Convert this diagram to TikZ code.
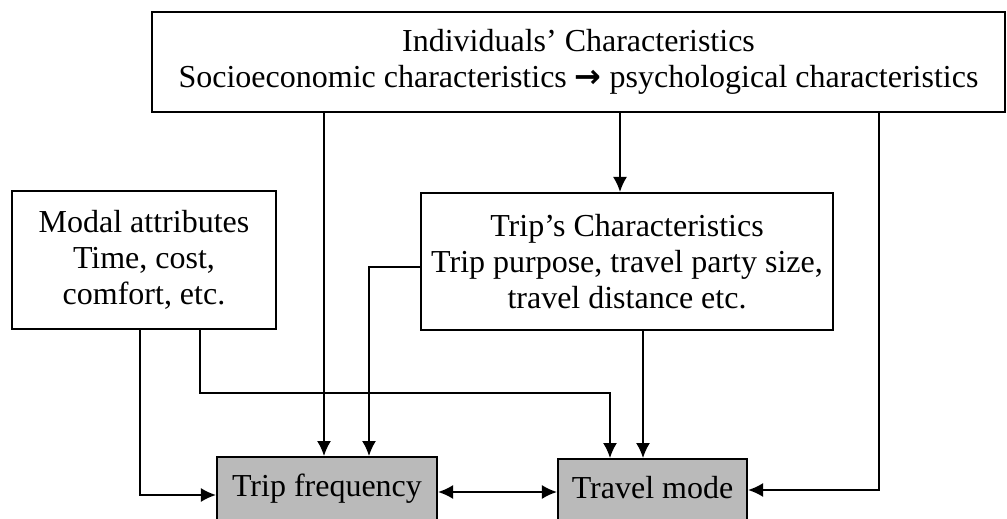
\documentclass[tikz,border=0pt]{standalone}
\usepackage{fontspec}
\setmainfont{Liberation Serif}
\newfontfamily\arrowfont{DejaVu Sans}
\usetikzlibrary{arrows.meta,positioning}
\tikzset{
  box/.style={draw, line width=1.1pt, inner sep=0pt, align=center, font=\fontsize{16}{18}\selectfont},
  gbox/.style={box, fill=black!27, anchor=north, inner ysep=0pt, text height=19.5pt, text depth=22pt},
  arrow/.style={-{Latex[length=7.5pt,width=7pt]}, line width=0.8pt},
  darrow/.style={{Latex[length=7.5pt,width=7pt]}-{Latex[length=7.5pt,width=7pt]}, line width=0.8pt}
}

\begin{document}
\begin{tikzpicture}[x=0.5pt,y=-0.5pt]
  \useasboundingbox (0,0) rectangle (1007,519);
  \clip (0,0) rectangle (1007,519);
  % boxes
  \node[box, minimum width=426.5pt, minimum height=50pt] (ind) at (578.5,62)
    {Individuals’ Characteristics\\Socioeconomic characteristics {\arrowfont\bfseries →} psychological characteristics};
  \node[box, minimum width=132pt, minimum height=69pt] (modal) at (144,260)
    {Modal attributes\\Time, cost,\\comfort, etc.};
  \node[box, minimum width=206pt, minimum height=68.5pt] (trip) at (627,261.5)
    {Trip’s Characteristics\\Trip purpose, travel party size,\\travel distance etc.};
  \node[gbox, minimum width=110pt] (tf) at (327,456) {Trip frequency};
  \node[gbox, minimum width=94.5pt] (tm) at (652.5,458) {Travel mode};
  % bends
  \coordinate (mb) at (610,393);
  % connectors
  \draw[arrow] (ind.south -| 324,0) -- (tf.north -| 324,0);
  \draw[arrow] (ind.south -| 620,0) -- (trip.north -| 620,0);
  \draw[arrow] (ind.south -| 879,0) |- (tm.east |- 0,490);
  \draw[arrow] (trip.west |- 0,267) -| (tf.north -| 369,0);
  \draw[arrow] (trip.south -| 643,0) -- (tm.north -| 643,0);
  \draw[arrow] (modal.south -| 200,0) |- (mb) -- (tm.north -| mb);
  \draw[arrow] (modal.south -| 140,0) |- (tf.west |- 0,495);
  \draw[darrow] (tf.east |- 0,492) -- (tm.west |- 0,492);
\end{tikzpicture}
\end{document}
